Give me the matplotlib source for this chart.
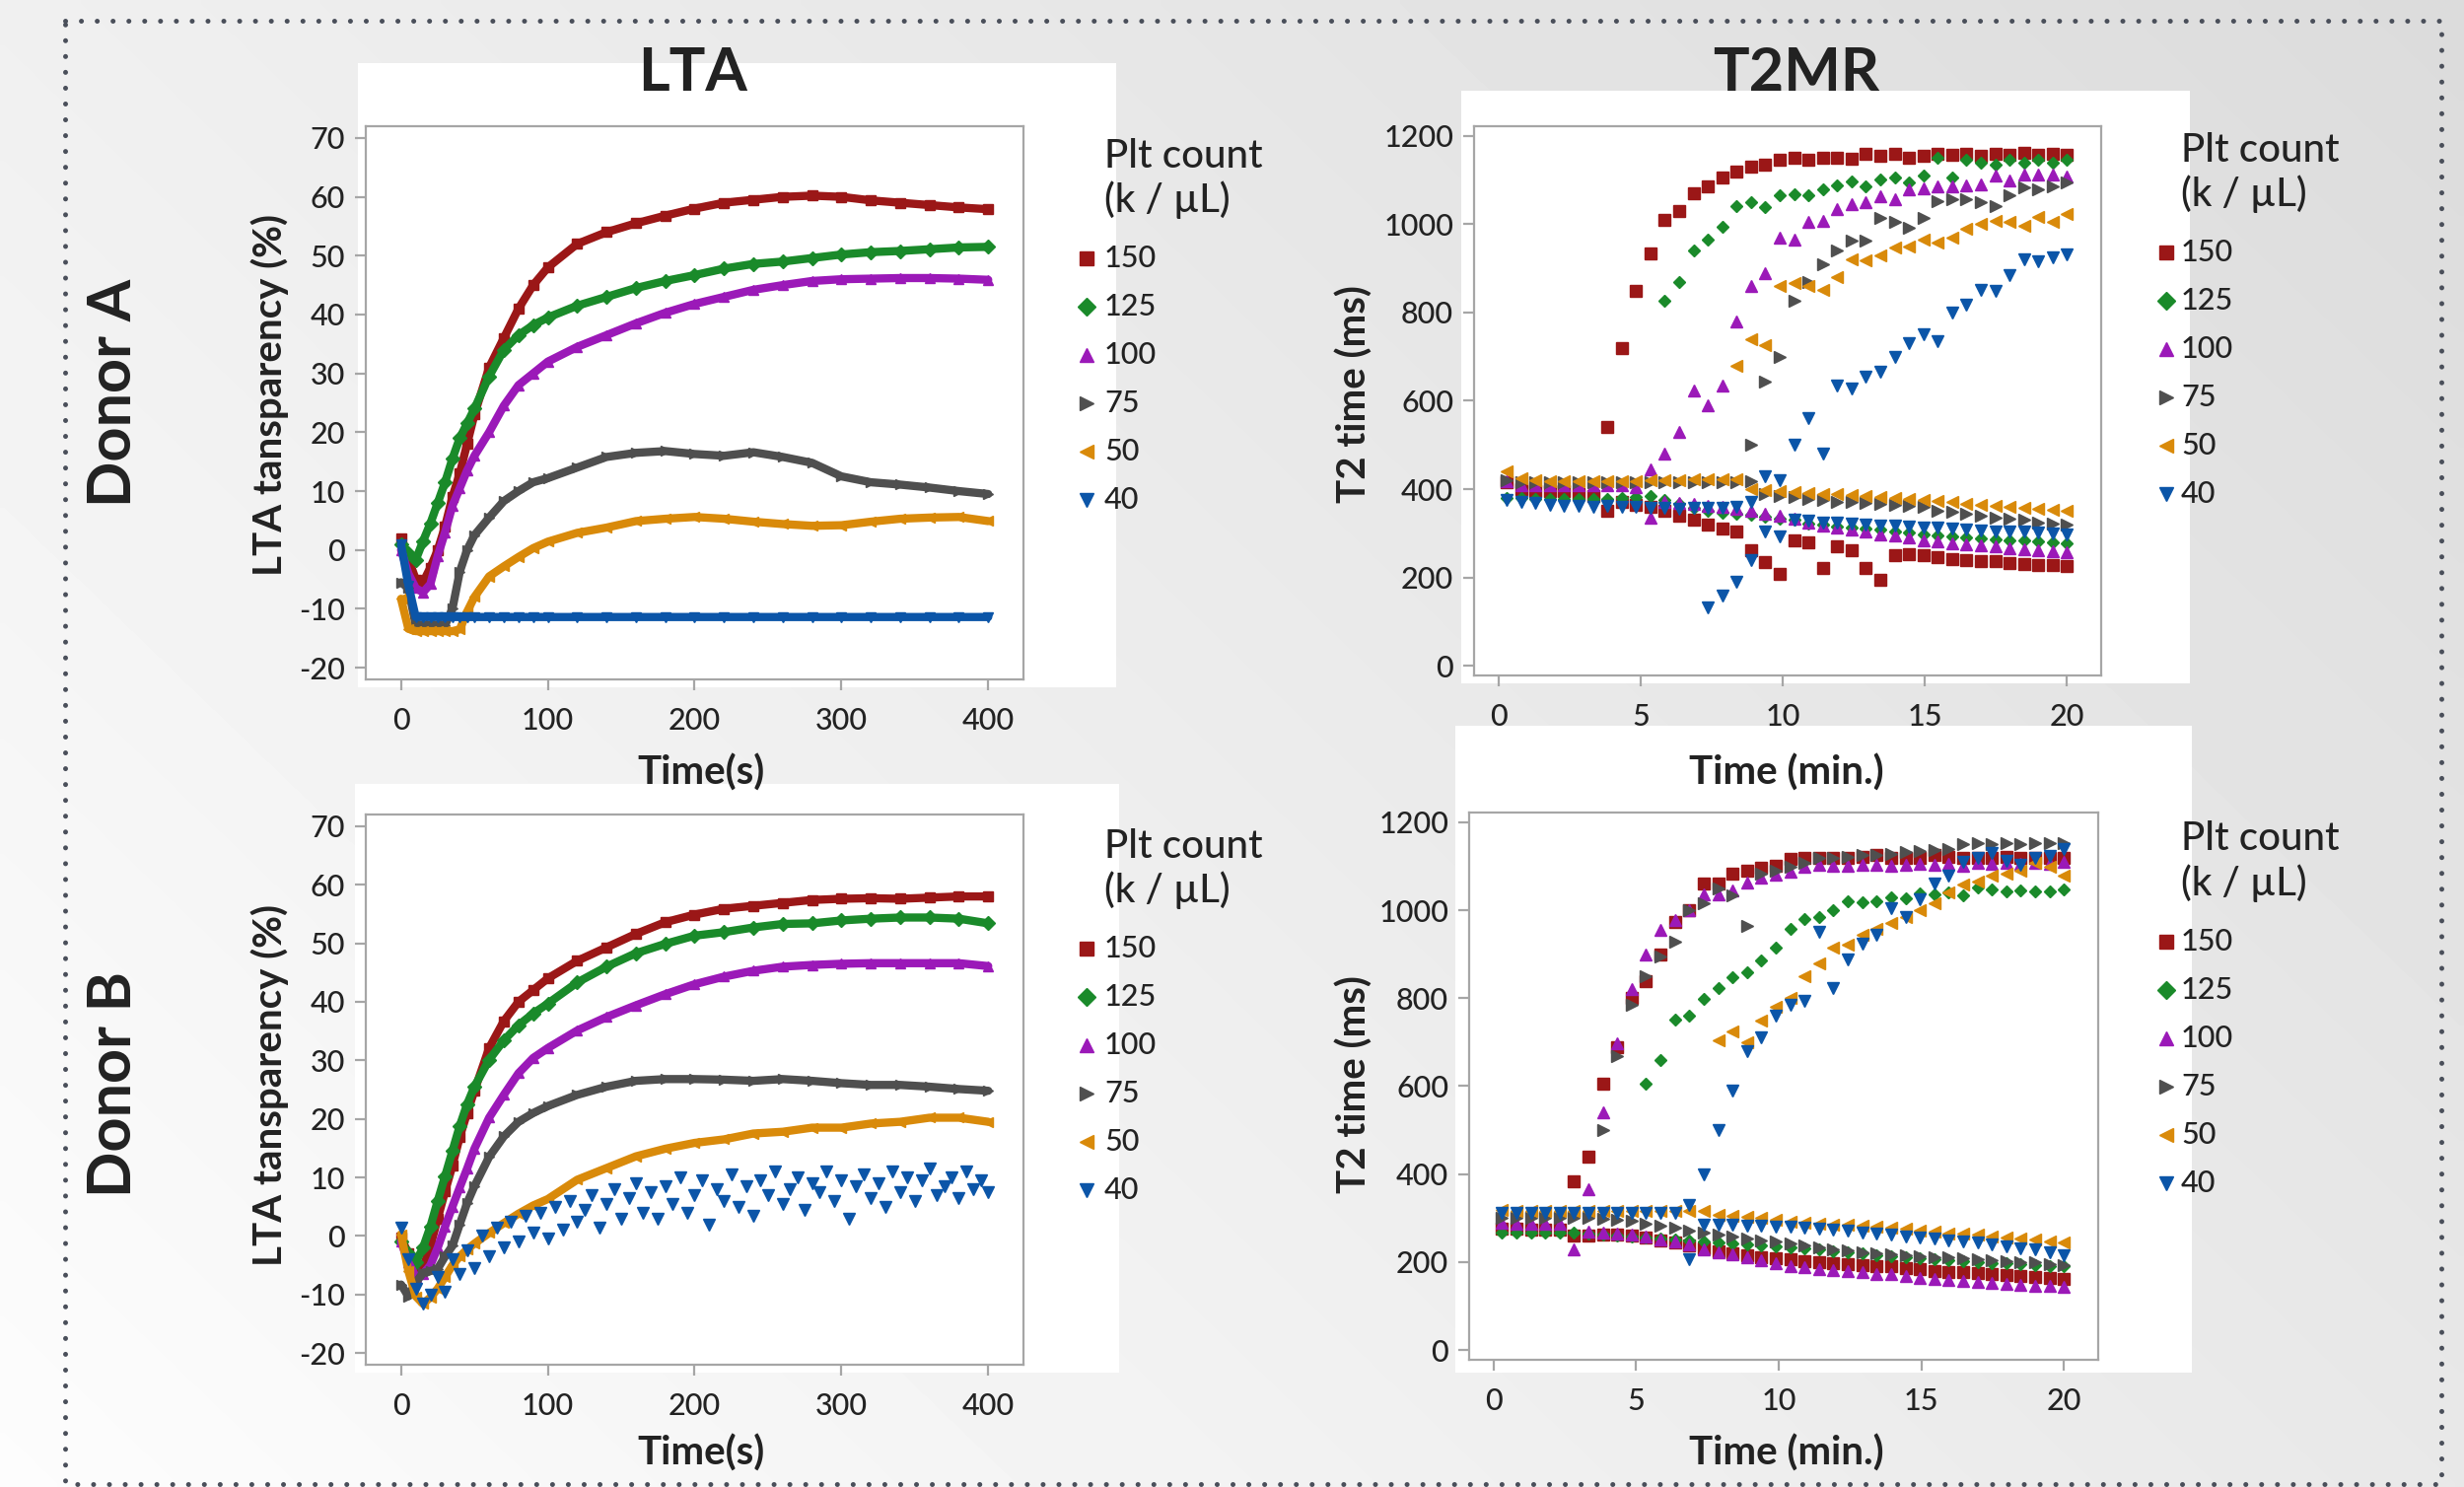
import numpy as np
import matplotlib
matplotlib.use("Agg")
import matplotlib.pyplot as plt
from matplotlib.patches import Rectangle

# ---------------- data ----------------
plt_counts = ["150", "125", "100", "75", "50", "40"]
colors = ["#9b1717", "#1a8a2a", "#9b19b8", "#4f4f4f", "#d98a0a", "#0b55a8"]
markers = ["s", "D", "^", ">", "<", "v"]

# LTA transparency (%) vs time (s)
lta_time = [0, 5, 10, 15, 20, 25, 30, 35, 40, 45, 50, 60, 70, 80, 90, 100,
            120, 140, 160, 180, 200, 220, 240, 260, 280, 300, 320, 340, 360, 380, 400]

lta_a_150 = [2, -1.5, -5, -5.5, -3, 0, 4, 9, 13, 18, 23, 31, 36, 41, 45, 48,
             52, 54, 55.5, 56.8, 58, 59, 59.5, 60, 60.2, 60, 59.4, 59, 58.6, 58.2, 57.9]
lta_a_125 = [1, -0.5, -1.7, 1.5, 4.5, 8, 11.5, 15.5, 19, 21.5, 24, 29.5, 34, 36.5, 38.2, 39.5,
             41.5, 43, 44.5, 45.7, 46.7, 47.8, 48.6, 49, 49.6, 50.2, 50.6, 50.8, 51.1, 51.4, 51.5]
lta_a_100 = [0, -4, -6.5, -7.2, -5.8, -1, 3, 7.5, 10.5, 13.5, 16, 20, 24.5, 28, 30, 32,
             34.5, 36.5, 38.5, 40.3, 41.8, 43, 44.2, 45, 45.7, 46, 46.1, 46.2, 46.2, 46.1, 45.9]
lta_a_75 = [-5.5, -6.5, -12.8, -12.8, -12.8, -12.8, -12.8, -10, -3.7, 0, 2.5, 5.5, 8.3, 10, 11.5, 12.2,
            14, 15.8, 16.5, 16.8, 16.3, 16, 16.6, 15.8, 14.8, 12.5, 11.5, 11.1, 10.6, 10, 9.5]
lta_a_50 = [-8.3, -13.4, -13.8, -13.8, -13.8, -13.8, -13.8, -13.8, -13.5, -10.5, -8, -4.5, -2.8, -1.2, 0.3, 1.4,
            2.9, 3.8, 4.9, 5.3, 5.6, 5.3, 4.8, 4.4, 4.1, 4.2, 4.8, 5.3, 5.5, 5.6, 4.9]
lta_a_40 = [1, -6, -11.4, -11.4, -11.4, -11.4, -11.4, -11.4, -11.4, -11.4, -11.4, -11.4, -11.4, -11.4, -11.4, -11.4,
            -11.4, -11.4, -11.4, -11.4, -11.4, -11.4, -11.4, -11.4, -11.4, -11.4, -11.4, -11.4, -11.4, -11.4, -11.4]

lta_b_150 = [-0.3, -3, -6, -5.5, -1.7, 3, 7.6, 12, 16.9, 21, 24.8, 32.1, 36.7, 40, 42, 44,
             47, 49.3, 51.6, 53.6, 54.9, 55.9, 56.4, 56.9, 57.4, 57.6, 57.7, 57.6, 57.8, 58, 58]
lta_b_125 = [-1, -3, -4.5, -2, 1.6, 6, 10.2, 14.5, 18.8, 22.5, 25.5, 30.1, 33.4, 36, 38, 39.7,
             43.3, 46, 48.3, 49.9, 51.3, 51.9, 52.7, 53.3, 53.4, 53.9, 54.2, 54.4, 54.4, 54.2, 53.4]
lta_b_100 = [-1, -4.5, -7, -6.5, -5, -2, 1.6, 5, 8.3, 11.5, 14.9, 20.2, 24.1, 27.8, 30.4, 32.1,
             35.1, 37.4, 39.4, 41.3, 43, 44.3, 45.3, 46, 46.3, 46.5, 46.6, 46.6, 46.6, 46.6, 46.1]
lta_b_75 = [-8.3, -10.3, -8, -6.3, -6, -5.6, -3.5, -1.7, 2, 5.6, 8.5, 13.5, 17, 19.5, 21, 22.2,
            24.1, 25.5, 26.5, 26.8, 26.8, 26.7, 26.5, 26.8, 26.5, 26.1, 25.8, 25.8, 25.5, 25.1, 24.8]
lta_b_50 = [0.3, -6, -10.3, -11.6, -10.5, -9, -7, -5, -3.5, -2.3, -1.3, 0.5, 2.2, 3.8, 5.2, 6.3,
            9.6, 11.6, 13.6, 14.9, 15.9, 16.5, 17.5, 17.8, 18.5, 18.5, 19.2, 19.5, 20.2, 20.2, 19.5]
# 40 k/uL, donor B is a noisy scatter, read every 5 s from 0 to 400 s
lta_b_40 = [1.5, -4, -9, -11.5, -10, -7, -9.5, -4, -6.5, -2.5,
            -5.5, 0, -3.5, 1.5, -2, 2.5, -1, 3.5, 0.5, 4,
            -0.5, 5, 1, 6, 2.5, 4.5, 7, 1.5, 5.5, 8,
            3, 6.5, 9, 4, 7.5, 3, 8.5, 5.5, 10, 4,
            7, 9.5, 2, 8, 6, 10.5, 5, 8.5, 3.5, 9.5,
            7, 11, 5.5, 8, 10, 4.5, 9, 7.5, 11, 6,
            9.5, 3, 8.5, 10.5, 6.5, 9, 5, 11, 7.5, 10,
            6, 9.5, 11.5, 7, 8.5, 10, 6.5, 11, 8, 9.5, 7.5]
lta_b_40_time = np.linspace(0, 400, len(lta_b_40))

# T2MR: T2 time (ms) vs time (min); each sample splits into a lower and an upper population.
# upper-branch lists cover the last points of the time grid
t2_time = np.linspace(0.3, 20.0, 40)

t2a_150_low = [415, 400, 395, 395, 395, 390, 385, 350, 370, 365, 360, 350, 340, 330, 320, 310, 305, 262, 234, 208,
               284, 280, 222, 270, 262, 222, 195, 250, 253, 250, 245, 242, 240, 238, 236, 233, 231, 229, 228, 227]
t2a_150_up = [540, 720, 850, 934, 1010, 1030, 1070, 1085, 1105, 1120, 1130, 1136, 1145, 1150, 1145, 1150, 1150,
              1148, 1160, 1155, 1160, 1150, 1155, 1160, 1158, 1160, 1155, 1160, 1158, 1162, 1158, 1160, 1158]
t2a_125_low = [380, 380, 378, 378, 378, 378, 378, 378, 380, 382, 384, 375, 366, 358, 350, 347, 344, 342, 338, 333,
               330, 323, 320, 316, 314, 310, 308, 305, 302, 298, 295, 293, 290, 288, 287, 285, 284, 282, 280, 277]
t2a_125_up = [826, 870, 940, 965, 995, 1040, 1050, 1038, 1065, 1069, 1066, 1080, 1089, 1097, 1085, 1101, 1105,
              1095, 1110, 1150, 1105, 1145, 1140, 1135, 1145, 1140, 1145, 1140, 1145]
t2a_100_low = [417, 410, 408, 408, 408, 408, 408, 408, 408, 405, 335, 372, 368, 366, 362, 360, 355, 350, 345, 340,
               333, 325, 318, 312, 308, 303, 298, 295, 290, 285, 281, 278, 275, 272, 270, 267, 264, 262, 260, 258]
t2a_100_up = [445, 480, 530, 624, 590, 635, 780, 860, 890, 970, 965, 1005, 1007, 1035, 1045, 1050, 1064, 1056,
              1078, 1082, 1085, 1085, 1088, 1090, 1110, 1100, 1112, 1112, 1112, 1108]
t2a_75_low = [420, 416, 415, 415, 415, 415, 415, 415, 415, 415, 415, 415, 415, 415, 415, 415, 415, 418, 388, 385,
              382, 378, 375, 372, 370, 368, 366, 364, 362, 360, 352, 348, 345, 340, 335, 332, 330, 325, 322, 320]
t2a_75_up = [500, 643, 700, 826, 870, 910, 940, 962, 962, 1014, 1005, 992, 1015, 1052, 1057, 1057, 1050, 1040,
             1065, 1083, 1080, 1085, 1094]
t2a_50_low = [440, 425, 420, 418, 418, 418, 418, 418, 418, 418, 420, 420, 420, 422, 423, 423, 422, 400, 398, 396,
              394, 392, 390, 388, 386, 384, 382, 380, 378, 376, 373, 370, 367, 364, 362, 360, 358, 356, 354, 352]
t2a_50_up = [680, 740, 727, 860, 866, 860, 852, 880, 920, 918, 929, 947, 950, 965, 958, 969, 990, 1000, 1007,
             1005, 996, 1016, 1005, 1023]
t2a_40_low = [375, 372, 368, 365, 362, 362, 360, 362, 360, 360, 358, 358, 356, 358, 358, 358, 360, 372, 430, 420,
              330, 328, 325, 325, 322, 320, 318, 318, 315, 314, 312, 310, 308, 306, 305, 304, 303, 302, 300, 298]
t2a_40_up = [133, 160, 190, 240, 305, 292, 500, 560, 480, 635, 629, 655, 665, 700, 730, 750, 735, 800, 817, 852,
             850, 885, 920, 917, 925, 932]

t2b_150_low = [275, 275, 274, 274, 274, 260, 260, 262, 262, 260, 255, 250, 245, 238, 232, 225, 220, 215, 212, 208,
               206, 203, 200, 198, 196, 194, 192, 190, 187, 184, 180, 178, 177, 175, 173, 171, 168, 166, 164, 161]
t2b_150_up = [384, 439, 605, 688, 800, 838, 900, 973, 1000, 1060, 1060, 1084, 1090, 1097, 1100, 1116, 1118, 1120,
              1118, 1120, 1122, 1125, 1120, 1120, 1118, 1125, 1122, 1120, 1118, 1120, 1122, 1118, 1120, 1118, 1120]
t2b_125_low = [268, 268, 268, 268, 268, 268, 265, 262, 260, 258, 256, 254, 252, 250, 248, 245, 242, 240, 238, 236,
               234, 231, 228, 225, 222, 219, 216, 213, 211, 208, 206, 204, 202, 200, 198, 197, 195, 193, 192, 190]
t2b_125_up = [606, 660, 751, 760, 799, 822, 848, 860, 885, 915, 958, 980, 985, 1000, 1020, 1018, 1020, 1030,
              1028, 1038, 1036, 1040, 1033, 1052, 1048, 1043, 1045, 1042, 1043, 1047]
t2b_100_low = [290, 288, 288, 288, 288, 230, 270, 268, 265, 262, 258, 252, 248, 240, 230, 222, 218, 212, 205, 198,
               192, 188, 185, 182, 180, 177, 174, 172, 168, 165, 162, 160, 157, 155, 152, 150, 148, 146, 145, 143]
t2b_100_up = [365, 540, 698, 820, 900, 955, 978, 1000, 1036, 1036, 1045, 1062, 1074, 1080, 1088, 1098, 1103, 1100,
              1102, 1104, 1103, 1100, 1104, 1106, 1104, 1106, 1100, 1108, 1106, 1108, 1106, 1108, 1106, 1110]
t2b_75_low = [300, 300, 300, 300, 300, 300, 300, 298, 297, 295, 288, 283, 278, 272, 268, 262, 258, 254, 250, 246,
              242, 238, 234, 230, 226, 223, 220, 217, 215, 213, 211, 210, 208, 206, 205, 203, 201, 199, 196, 193]
t2b_75_up = [500, 669, 785, 850, 895, 928, 1000, 1016, 1050, 1033, 965, 1084, 1090, 1098, 1108, 1118, 1120, 1122,
             1125, 1125, 1128, 1132, 1135, 1137, 1140, 1150, 1152, 1150, 1152, 1150, 1152, 1152, 1153]
t2b_50_low = [318, 317, 317, 317, 317, 317, 317, 317, 317, 317, 317, 317, 317, 317, 316, 308, 305, 302, 300, 296,
              292, 290, 288, 286, 284, 282, 280, 278, 275, 272, 269, 266, 264, 262, 259, 257, 254, 251, 248, 245]
t2b_50_up = [705, 724, 700, 750, 780, 800, 850, 878, 915, 922, 945, 958, 972, 985, 1000, 1016, 1040, 1058, 1065,
             1079, 1082, 1090, 1108, 1098, 1079]
t2b_40_low = [312, 312, 312, 312, 312, 312, 312, 312, 312, 312, 312, 312, 312, 206, 285, 284, 284, 283, 282, 281,
              280, 278, 276, 274, 271, 268, 265, 262, 259, 256, 253, 250, 247, 244, 240, 236, 232, 228, 222, 216]
t2b_40_up = [331, 400, 500, 590, 680, 712, 760, 785, 794, 950, 823, 887, 925, 945, 1005, 985, 1025, 1060, 1078,
             1110, 1118, 1130, 1113, 1103, 1120, 1123, 1140]

lta_a_series = [lta_a_150, lta_a_125, lta_a_100, lta_a_75, lta_a_50, lta_a_40]
lta_b_series = [lta_b_150, lta_b_125, lta_b_100, lta_b_75, lta_b_50]
t2a_series = [(t2a_150_low, t2a_150_up), (t2a_125_low, t2a_125_up), (t2a_100_low, t2a_100_up),
              (t2a_75_low, t2a_75_up), (t2a_50_low, t2a_50_up), (t2a_40_low, t2a_40_up)]
t2b_series = [(t2b_150_low, t2b_150_up), (t2b_125_low, t2b_125_up), (t2b_100_low, t2b_100_up),
              (t2b_75_low, t2b_75_up), (t2b_50_low, t2b_50_up), (t2b_40_low, t2b_40_up)]

# ---------------- figure ----------------
plt.rcParams['font.family'] = ['Lato', 'DejaVu Sans']
plt.rcParams['axes.unicode_minus'] = False
TXT = '#222222'
SPINE = '#a6a6a6'

W, H = 2499, 1508
fig = plt.figure(figsize=(W / 100, H / 100), dpi=100)

# background layer in pixel coordinates (y down)
bg = fig.add_axes([0, 0, 1, 1], zorder=0)
bg.set_xlim(0, W)
bg.set_ylim(H, 0)
bg.axis('off')
gx, gy = np.meshgrid(np.linspace(0, 1, 300), np.linspace(0, 1, 200))
shade = 0.99 - 0.08 * gx - 0.05 * (1 - gy)
bg.imshow(shade, cmap='gray', vmin=0, vmax=1, extent=[0, W, H, 0], aspect='auto',
          interpolation='bilinear', zorder=0)

# dotted frame
bg.plot([66, 2476, 2476, 66, 66], [21, 21, 1505, 1505, 21], color='#4a4f5a', lw=3.6,
        linestyle=(0, (0.01, 3.2)), dash_capstyle='round', zorder=2)

# white panels behind each chart
for x0, y0, x1, y1 in [(363, 64, 1132, 697), (1482, 92, 2221, 693),
                       (360, 795, 1135, 1392), (1476, 736, 2223, 1392)]:
    bg.add_patch(Rectangle((x0, y0), x1 - x0, y1 - y0, facecolor='white', edgecolor='none', zorder=1))


def make_axes(left, top, right, bottom):
    ax = fig.add_axes([left / W, 1 - bottom / H, (right - left) / W, (bottom - top) / H], zorder=2)
    ax.set_facecolor('white')
    for s in ax.spines.values():
        s.set_color(SPINE)
        s.set_linewidth(1.6)
    ax.tick_params(axis='both', color=SPINE, width=1.6, length=8, labelsize=22, labelcolor=TXT)
    ax.tick_params(axis='x', pad=12)
    ax.tick_params(axis='y', pad=7)
    for lab in ax.get_xticklabels() + ax.get_yticklabels():
        lab.set_fontweight('medium')
    return ax


def lta_axes(ax):
    ax.set_xlim(-24, 424)
    ax.set_ylim(-22, 72)
    ax.set_xticks([0, 100, 200, 300, 400])
    ax.set_yticks(np.arange(-20, 71, 10))


def t2_axes(ax):
    ax.set_xlim(-0.85, 21.2)
    ax.set_ylim(-22, 1222)
    ax.set_xticks([0, 5, 10, 15, 20])
    ax.set_yticks(np.arange(0, 1201, 200))


# LTA, donor A
ax1 = make_axes(371, 128, 1038, 689)
lta_axes(ax1)
for vals, c, m in zip(lta_a_series, colors, markers):
    ax1.plot(lta_time, vals, color=c, lw=6, marker=m, ms=7.5, mec=c, mfc=c,
             solid_joinstyle='round', solid_capstyle='round')

# LTA, donor B
ax3 = make_axes(371, 826, 1038, 1384)
lta_axes(ax3)
for vals, c, m in zip(lta_b_series, colors, markers):
    ax3.plot(lta_time, vals, color=c, lw=6, marker=m, ms=7.5, mec=c, mfc=c,
             solid_joinstyle='round', solid_capstyle='round')
ax3.plot(lta_b_40_time, lta_b_40, ls='none', marker='v', ms=8, color=colors[5])

# T2MR, donors A and B
ax2 = make_axes(1495, 128, 2131, 685)
ax4 = make_axes(1490, 824, 2128, 1379)
for ax, series in [(ax2, t2a_series), (ax4, t2b_series)]:
    t2_axes(ax)
    for (low, up), c, m in zip(series, colors, markers):
        ms = 6.5 if m == 'D' else 8
        ax.plot(t2_time[:len(low)], low, ls='none', marker=m, ms=ms, color=c)
        ax.plot(t2_time[-len(up):], up, ls='none', marker=m, ms=ms, color=c)

for ax in [ax1, ax2, ax3, ax4]:
    for lab in ax.get_xticklabels() + ax.get_yticklabels():
        lab.set_fontweight('medium')

# ---------------- text ----------------
bg.text(703, 92, 'LTA', fontsize=44, fontweight='bold', color=TXT, ha='center', va='baseline')
bg.text(1822, 92, 'T2MR', fontsize=44, fontweight='bold', color=TXT, ha='center', va='baseline')
bg.text(133, 398, 'Donor A', fontsize=44, fontweight='bold', color=TXT, rotation=90,
        rotation_mode='anchor', ha='center', va='baseline')
bg.text(133, 1100, 'Donor B', fontsize=44, fontweight='bold', color=TXT, rotation=90,
        rotation_mode='anchor', ha='center', va='baseline')

for yc in [400, 1100]:
    bg.text(286, yc, 'LTA tansparency (%)', fontsize=29, fontweight='bold', color=TXT, rotation=90,
            rotation_mode='anchor', ha='center', va='baseline')
    bg.text(1386, yc, 'T2 time (ms)', fontsize=29, fontweight='bold', color=TXT, rotation=90,
            rotation_mode='anchor', ha='center', va='baseline')
for yb in [796, 1486]:
    bg.text(711, yb, 'Time(s)', fontsize=29, fontweight='bold', color=TXT, ha='center', va='baseline')
    bg.text(1812, yb, 'Time (min.)', fontsize=29, fontweight='bold', color=TXT, ha='center', va='baseline')

# legends
for mx, tx, ty in [(1102, 1120, 158), (2197, 2212, 152), (1102, 1120, 858), (2197, 2212, 851)]:
    bg.text(tx, ty, 'Plt count', fontsize=29, fontweight='medium', color=TXT, ha='left', va='center')
    bg.text(tx, ty + 45, '(k / \u00b5L)', fontsize=29, fontweight='medium', color=TXT, ha='left', va='center')
    for k, (lab, c, m) in enumerate(zip(plt_counts, colors, markers)):
        yy = ty + 104 + 49 * k
        bg.plot([mx], [yy], ls='none', marker=m, ms=9 if m == 'D' else 10, color=c, zorder=3)
        bg.text(tx, yy, lab, fontsize=22, fontweight='medium', color=TXT, ha='left', va='center')

fig.savefig('out.png', dpi=100)
